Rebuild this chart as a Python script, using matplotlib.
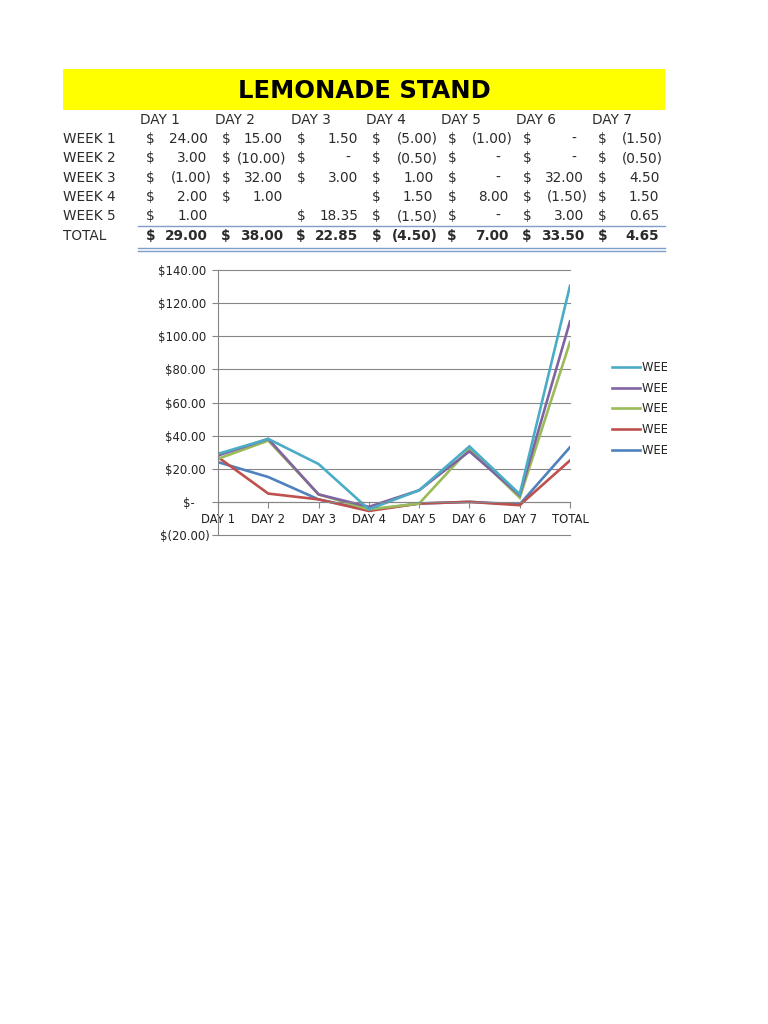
import numpy as np
import matplotlib
matplotlib.use('Agg')
import matplotlib.pyplot as plt
from matplotlib.transforms import Bbox, TransformedBbox

plt.rcParams['text.parse_math'] = False
plt.rcParams['font.family'] = 'DejaVu Sans'

# data from the sheet (None = empty cell)
days = ['DAY 1', 'DAY 2', 'DAY 3', 'DAY 4', 'DAY 5', 'DAY 6', 'DAY 7']
weeks = ['WEEK 1', 'WEEK 2', 'WEEK 3', 'WEEK 4', 'WEEK 5']
week1 = [24.00, 15.00, 1.50, -5.00, -1.00, 0.00, -1.50]
week2 = [3.00, -10.00, 0.00, -0.50, 0.00, 0.00, -0.50]
week3 = [-1.00, 32.00, 3.00, 1.00, 0.00, 32.00, 4.50]
week4 = [2.00, 1.00, None, 1.50, 8.00, -1.50, 1.50]
week5 = [1.00, None, 18.35, -1.50, 0.00, 3.00, 0.65]
colors = ['#4F81BD', '#C0504D', '#9BBB59', '#8064A2', '#4BACC6']

rows = [week1, week2, week3, week4, week5]
vals = np.array([[np.nan if v is None else v for v in r] for r in rows])
totals = np.nansum(vals, axis=0)


def acct(v):
    if v is None:
        return None
    if v == 0:
        return '-'
    if v < 0:
        return f'({-v:.2f})'
    return f'{v:.2f}'


fig = plt.figure(figsize=(7.68, 10.24), dpi=100)
bg = fig.add_axes([0, 0, 1, 1])
bg.set_xlim(0, 768)
bg.set_ylim(1024, 0)
bg.axis('off')

# title band
bg.add_patch(plt.Rectangle((63, 69), 602, 41, color='#FFFF00', lw=0))
bg.text(364, 91.5, 'LEMONADE STAND', ha='center', va='center',
        fontsize=17.5, fontweight='heavy', color='black')

txt = '#2b2b2b'
fs = 9.8
col_x = [140 + 75.3 * i for i in range(7)]
row_y = [139, 158.3, 177.6, 196.9, 216.2]
total_y = 236

for x, d in zip(col_x, days):
    bg.text(x, 120, d, ha='left', va='center', fontsize=fs, color=txt)


def cell(x, y, v, bold=False):
    s = acct(v)
    if s is None:
        return
    w = 'bold' if bold else 'normal'
    bg.text(x + 10.5, y, '$', ha='center', va='center', fontsize=fs, color=txt, fontweight=w)
    if s == '-':
        bg.text(x + 57, y, '-', ha='center', va='center', fontsize=fs, color=txt, fontweight=w)
    elif s.startswith('('):
        bg.text(x + 71.5, y, s, ha='right', va='center', fontsize=fs, color=txt, fontweight=w)
    else:
        bg.text(x + 67.5, y, s, ha='right', va='center', fontsize=fs, color=txt, fontweight=w)


for name, r, y in zip(weeks, rows, row_y):
    bg.text(63, y, name, ha='left', va='center', fontsize=fs, color=txt)
    for x, v in zip(col_x, r):
        cell(x, y, v)

bg.text(63, total_y, 'TOTAL', ha='left', va='center', fontsize=fs, color=txt)
for x, v in zip(col_x, totals):
    cell(x, total_y, round(float(v), 2), bold=True)

line_c = '#7F9EC8'
bg.plot([138, 665], [226, 226], color=line_c, lw=1)
bg.plot([138, 665], [247.5, 247.5], color=line_c, lw=1)
bg.plot([138, 665], [250.5, 250.5], color=line_c, lw=1)

# chart: stacked lines, blanks as zero, TOTAL = row sum
cats = days + ['TOTAL']
series = np.array([list(np.nan_to_num(r)) + [np.nansum(r)] for r in vals])
stacked = np.cumsum(series, axis=0)
x = np.arange(len(cats))

ax = fig.add_axes([218 / 768, 1 - 535 / 1024, 352 / 768, 265 / 1024])
ax.patch.set_alpha(0)
for i in range(len(weeks)):
    ax.plot(x, stacked[i], color=colors[i], lw=1.9, label=weeks[i], solid_joinstyle='miter')

ax.set_xlim(0, 7)
ax.set_ylim(-20, 140)
yt = np.arange(-20, 141, 20)
ax.set_yticks(yt)


def ylab(v):
    if v == 0:
        return '$-    '
    if v < 0:
        return f'$({-v:.2f})'
    return f'${v:.2f} '


ax.set_yticklabels([ylab(v) for v in yt])
ax.set_xticks(x)
ax.set_xticklabels(cats)
ax.grid(axis='y', color='#868686', lw=0.8)
for gl in ax.get_ygridlines():
    gl.set_clip_on(False)
ax.set_axisbelow(True)
for s in ['top', 'right']:
    ax.spines[s].set_visible(False)
ax.spines['bottom'].set_position(('data', 0))
ax.spines['bottom'].set_color('#868686')
ax.spines['left'].set_color('#868686')
ax.spines['bottom'].set_linewidth(0.8)
ax.spines['left'].set_linewidth(0.8)
ax.tick_params(axis='y', length=4, color='#868686', labelsize=8.4, labelcolor='#222222', pad=2)
ax.tick_params(axis='x', length=4, color='#868686', labelsize=8.4, labelcolor='#222222', pad=4)

h, l = ax.get_legend_handles_labels()
leg = fig.legend(h[::-1], l[::-1], loc='center left', bbox_to_anchor=(601 / 768, 1 - 409 / 1024),
                 frameon=False, fontsize=8.4, handlelength=2.4, handletextpad=0.2,
                 labelspacing=0.66)
clip = TransformedBbox(Bbox([[0, 0], [667, 1024]]), bg.transData)
for t in leg.get_texts():
    t.set_color('#222222')
    t.set_clip_box(clip)
    t.set_clip_on(True)

fig.savefig('out.png', dpi=100)
